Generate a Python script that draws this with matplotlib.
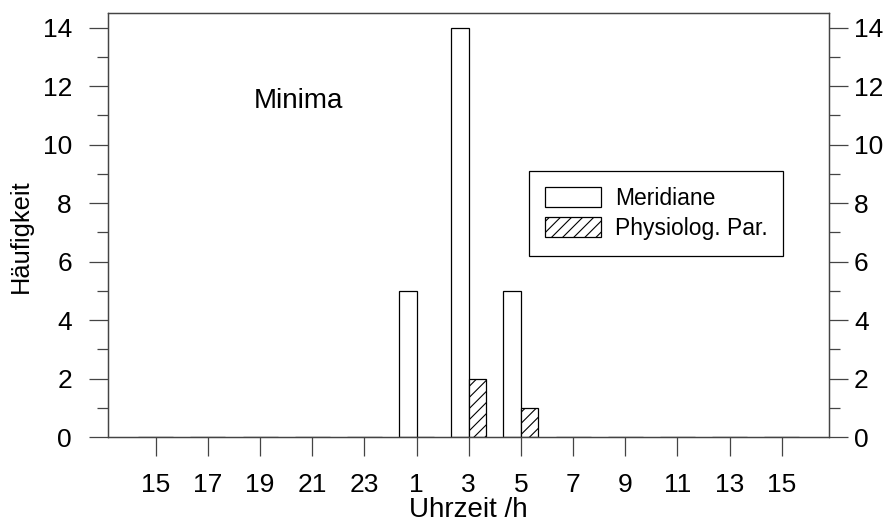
import numpy as np
import matplotlib
matplotlib.use("Agg")
import matplotlib.pyplot as plt
from matplotlib.ticker import MultipleLocator

plt.rcParams['font.family'] = ['Liberation Sans', 'DejaVu Sans']
plt.rcParams['hatch.linewidth'] = 0.8

# Uhrzeit-Klassen (2 h Schritte) und Häufigkeiten der Minima
stunden = ["15", "17", "19", "21", "23", "1", "3", "5", "7", "9", "11", "13", "15"]
meridiane = [0, 0, 0, 0, 0, 5, 14, 5, 0, 0, 0, 0, 0]
physiolog = [0, 0, 0, 0, 0, 0, 2, 1, 0, 0, 0, 0, 0]

x = np.arange(len(stunden))
breite = 0.335
achsfarbe = '#444444'

fig = plt.figure(figsize=(8.91, 5.22), dpi=100)
ax = fig.add_axes([0.1212, 0.1628, 0.8092, 0.8123])

ax.bar(x, meridiane, width=-breite, align='edge', color='white',
       edgecolor='black', linewidth=0.9, label='Meridiane')
ax.bar(x, physiolog, width=breite, align='edge', color='white',
       edgecolor='black', linewidth=0.9, hatch='///', label='Physiolog. Par.')

ax.set_xlim(-0.915, 12.905)
ax.set_ylim(0, 14.5)
ax.set_xticks(x)
ax.set_xticklabels(stunden)

# rechte Achse mit eigener Beschriftung
ax2 = ax.twinx()
ax2.set_ylim(ax.get_ylim())

for a, abstand in ((ax, 12), (ax2, 4)):
    a.yaxis.set_major_locator(MultipleLocator(2))
    a.yaxis.set_minor_locator(MultipleLocator(1))
    a.tick_params(axis='y', which='major', direction='out', length=14,
                  width=0.9, color=achsfarbe, labelsize=19, pad=abstand)
    a.tick_params(axis='y', which='minor', direction='out', length=8,
                  width=0.9, color=achsfarbe)
    for s in a.spines.values():
        s.set_linewidth(0.9)
        s.set_color(achsfarbe)

ax.tick_params(axis='x', which='major', direction='out', length=14,
               width=0.9, color=achsfarbe, labelsize=19, pad=12)

ax.set_xlabel('Uhrzeit /h', fontsize=20, labelpad=0)
ax.set_ylabel('Häufigkeit', fontsize=18.3)
ax.yaxis.set_label_coords(-0.104, 0.473)

ax.text(2.74, 11.5, 'Minima', fontsize=20, ha='center', va='center')

leg = ax.legend(loc='upper left', bbox_to_anchor=(0.5835, 0.628),
                borderaxespad=0, fontsize=16.5, fancybox=False,
                edgecolor='black', framealpha=1, handlelength=2.45,
                handleheight=1.0, handletextpad=0.6, labelspacing=0.3,
                borderpad=0.7)
leg.get_frame().set_linewidth(0.9)

fig.savefig('out.png', dpi=100)
